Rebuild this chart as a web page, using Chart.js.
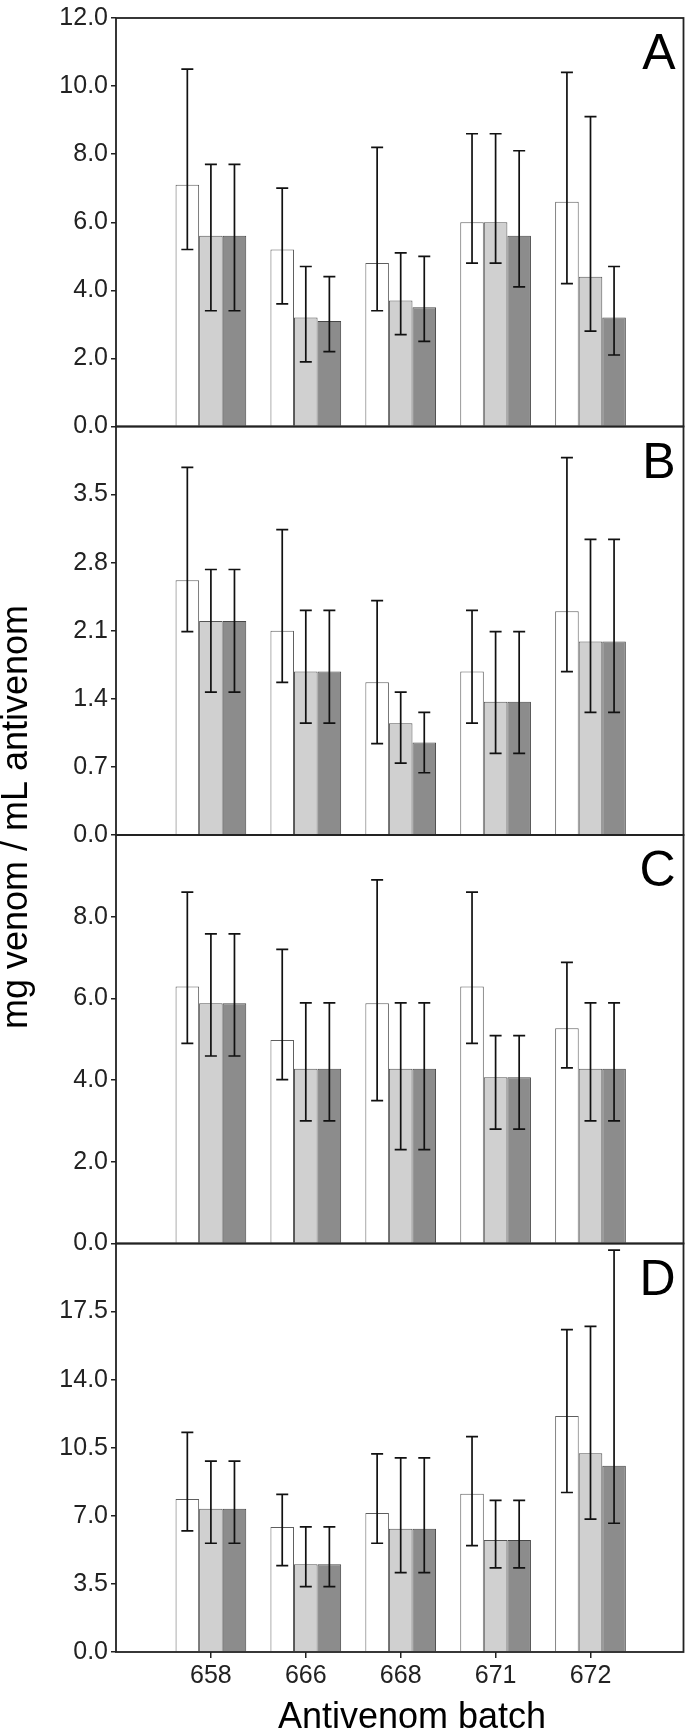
<!DOCTYPE html>
<html>
<head>
<meta charset="utf-8">
<script src="https://cdn.jsdelivr.net/npm/chart.js"></script>
<style>
  html, body { margin: 0; padding: 0; background: #fff; }
  #wrap { width: 688px; height: 1736px; position: relative; }
</style>
</head>
<body>
<div id="wrap"><canvas id="myChart"></canvas></div>
<script>
// batches on the x axis
var batches = ["658", "666", "668", "671", "672"];
var seriesNames = ["series 1", "series 2", "series 3"];
var panelLetters = ["A", "B", "C", "D"];

// panel A: rows are white, light grey, dark grey bars
var meanA = [[7.1, 5.2, 4.8, 6.0, 6.6], [5.6, 3.2, 3.7, 6.0, 4.4], [5.6, 3.1, 3.5, 5.6, 3.2]];
var lowA  = [[5.2, 3.6, 3.4, 4.8, 4.2], [3.4, 1.9, 2.7, 4.8, 2.8], [3.4, 2.2, 2.5, 4.1, 2.1]];
var highA = [[10.5, 7.0, 8.2, 8.6, 10.4], [7.7, 4.7, 5.1, 8.6, 9.1], [7.7, 4.4, 5.0, 8.1, 4.7]];

// panel B
var meanB = [[2.62, 2.10, 1.57, 1.68, 2.30], [2.20, 1.68, 1.15, 1.37, 1.99], [2.20, 1.68, 0.95, 1.37, 1.99]];
var lowB  = [[2.09, 1.57, 0.94, 1.15, 1.68], [1.47, 1.15, 0.74, 0.84, 1.26], [1.47, 1.15, 0.64, 0.84, 1.26]];
var highB = [[3.78, 3.14, 2.41, 2.31, 3.88], [2.73, 2.31, 1.47, 2.09, 3.04], [2.73, 2.31, 1.26, 2.09, 3.04]];

// panel C
var meanC = [[6.29, 4.98, 5.88, 6.29, 5.27], [5.88, 4.28, 4.28, 4.07, 4.28], [5.88, 4.28, 4.28, 4.07, 4.28]];
var lowC  = [[4.9, 4.01, 3.5, 4.9, 4.3], [4.59, 3.0, 2.3, 2.8, 3.0], [4.59, 3.0, 2.3, 2.8, 3.0]];
var highC = [[8.6, 7.2, 8.9, 8.6, 6.88], [7.58, 5.89, 5.89, 5.09, 5.89], [7.58, 5.89, 5.89, 5.09, 5.89]];

// panel D
var meanD = [[7.87, 6.42, 7.15, 8.13, 12.13], [7.36, 4.51, 6.33, 5.76, 10.22], [7.36, 4.51, 6.33, 5.76, 9.57]];
var lowD  = [[6.23, 4.44, 5.59, 5.47, 8.2], [5.59, 3.36, 4.08, 4.32, 6.83], [5.59, 3.36, 4.08, 4.32, 6.62]];
var highD = [[11.29, 8.10, 10.19, 11.07, 16.57], [9.81, 6.43, 9.98, 7.79, 16.74], [9.81, 6.43, 9.98, 7.79, 20.66]];

// y tick values and axis tops
var ticksA = [0, 2, 4, 6, 8, 10, 12];
var ticksB = [0, 0.7, 1.4, 2.1, 2.8, 3.5];
var ticksC = [0, 2, 4, 6, 8];
var ticksD = [0, 3.5, 7, 10.5, 14, 17.5];
var maxA = 12, maxB = 4.2, maxC = 10, maxD = 21;

var fontFam = "'Liberation Sans', Arial, sans-serif";
var fills = ["#ffffff", "#d0d0d0", "#8c8c8c"];
var edges = ["#5e5e5e", "#555555", "#474747"];

var panels = [
	{id: "yA", mean: meanA, low: lowA, high: highA, ticks: ticksA, max: maxA},
	{id: "yB", mean: meanB, low: lowB, high: highB, ticks: ticksB, max: maxB},
	{id: "yC", mean: meanC, low: lowC, high: highC, ticks: ticksC, max: maxC},
	{id: "yD", mean: meanD, low: lowD, high: highD, ticks: ticksD, max: maxD}
];

var datasets = [];
panels.forEach(function(p){
	for(var s = 0; s < 3; s++)
	{
		datasets.push({
			label: seriesNames[s],
			data: batches.map(function(b, i){ return {x: i + 1, y: p.mean[s][i]}; }),
			errLow: p.low[s],
			errHigh: p.high[s],
			yAxisID: p.id,
			xAxisID: "x",
			stack: "s" + s,
			backgroundColor: fills[s],
			borderColor: edges[s],
			borderWidth: 1,
			categoryPercentage: 0.745,
			barPercentage: 1.0
		});
	}
});

function yAxis(p, weight)
{
	return {
		type: "linear",
		position: "left",
		stack: "panels",
		stackWeight: 1,
		weight: weight,
		min: 0,
		max: p.max,
		stacked: false,
		afterBuildTicks: function(scale){ scale.ticks = p.ticks.map(function(v){ return {value: v}; }); },
		afterFit: function(scale){ scale.width = 116; },
		border: {display: false},
		grid: {drawOnChartArea: false, drawTicks: true, tickLength: 5, color: "#222", lineWidth: 1.5},
		ticks: {
			font: {family: fontFam, size: 25},
			color: "#222",
			padding: 3,
			autoSkip: false,
			callback: function(v){ return Number(v).toFixed(1); }
		}
	};
}

var framePlugin = {
	id: "framePlugin",
	afterDatasetsDraw: function(chart){
		var ctx = chart.ctx;
		var area = chart.chartArea;
		ctx.save();

		// error bars
		ctx.strokeStyle = "#111";
		ctx.lineWidth = 1.7;
		chart.data.datasets.forEach(function(ds, di){
			var meta = chart.getDatasetMeta(di);
			var ys = chart.scales[ds.yAxisID];
			meta.data.forEach(function(bar, i){
				var x = bar.x;
				var yl = ys.getPixelForValue(ds.errLow[i]);
				var yh = ys.getPixelForValue(ds.errHigh[i]);
				ctx.beginPath();
				ctx.moveTo(x, yl); ctx.lineTo(x, yh);
				ctx.moveTo(x - 6, yl); ctx.lineTo(x + 6, yl);
				ctx.moveTo(x - 6, yh); ctx.lineTo(x + 6, yh);
				ctx.stroke();
			});
		});

		// panel frames and letters
		ctx.strokeStyle = "#222";
		ctx.lineWidth = 1.8;
		ctx.fillStyle = "#000";
		ctx.font = "50px " + fontFam;
		ctx.textAlign = "right";
		ctx.textBaseline = "alphabetic";
		panels.forEach(function(p, k){
			var s = chart.scales[p.id];
			ctx.strokeRect(area.left, s.top, area.right - area.left, s.bottom - s.top);
			ctx.fillText(panelLetters[k], area.right - 8, s.top + 51);
		});

		// axis titles
		ctx.font = "36px " + fontFam;
		ctx.textAlign = "center";
		ctx.fillText("Antivenom batch", 412, 1728);
		ctx.translate(27, 817);
		ctx.rotate(-Math.PI / 2);
		ctx.fillText("mg venom / mL antivenom", 0, 0);

		ctx.restore();
	}
};

var ctx = document.getElementById("myChart");
var mChart = new Chart(ctx, {
	type: "bar",
	data: {datasets: datasets},
	options: {
		responsive: true,
		maintainAspectRatio: false,
		animation: false,
		devicePixelRatio: 1,
		layout: {padding: {top: 15, right: 4.5, bottom: 0, left: 0}},
		plugins: {legend: {display: false}, tooltip: {enabled: false}},
		scales: {
			x: {
				type: "linear",
				position: "bottom",
				min: 0,
				max: 5.98,
				offset: false,
				stacked: true,
				afterBuildTicks: function(scale){ scale.ticks = batches.map(function(b, i){ return {value: i + 1}; }); },
				afterFit: function(scale){ scale.height = 84; },
				border: {display: false},
				grid: {offset: false, drawOnChartArea: false, drawTicks: true, tickLength: 6, color: "#222", lineWidth: 1.5},
				ticks: {
					font: {family: fontFam, size: 25},
					color: "#222",
					padding: 3,
					maxRotation: 0,
					autoSkip: false,
					callback: function(v, i){ return batches[i]; }
				}
			},
			yD: yAxis(panels[3], 1),
			yC: yAxis(panels[2], 2),
			yB: yAxis(panels[1], 3),
			yA: yAxis(panels[0], 4)
		}
	},
	plugins: [framePlugin]
});
</script>
</body>
</html>
